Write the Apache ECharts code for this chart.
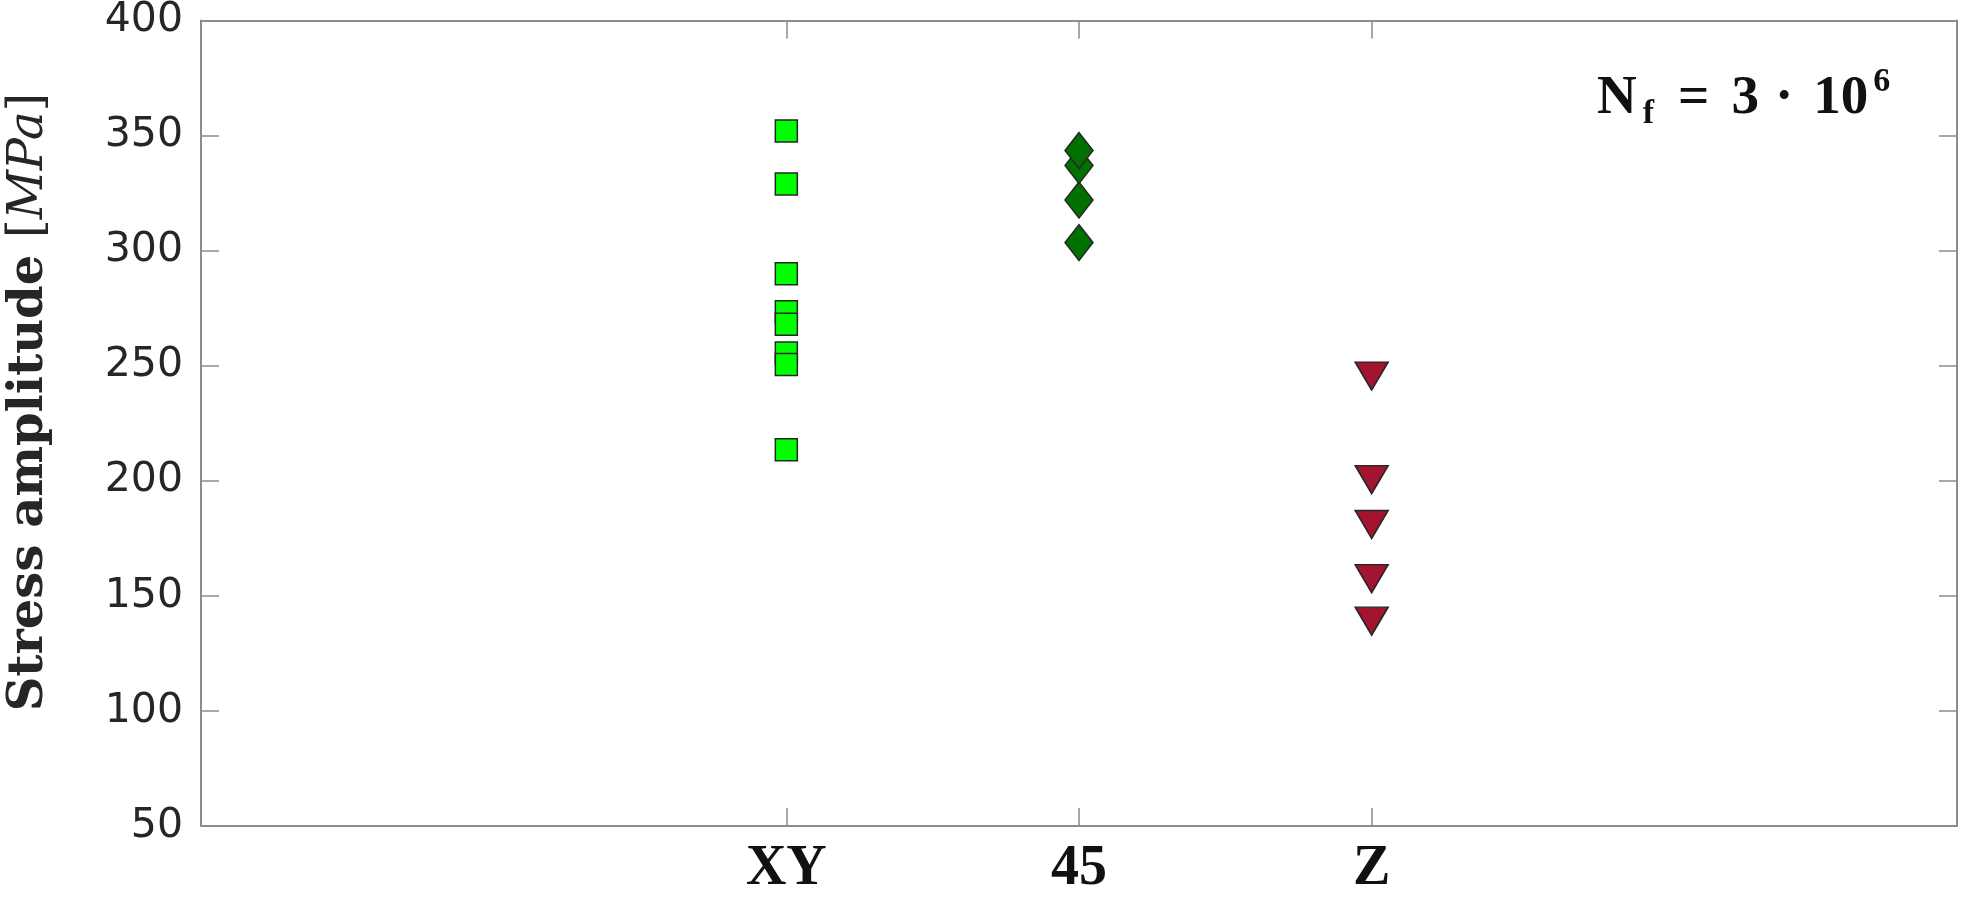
<!DOCTYPE html>
<html>
<head>
<meta charset="utf-8">
<script src="https://cdn.jsdelivr.net/npm/echarts@6/dist/echarts.min.js"></script>
<style>
html,body{margin:0;padding:0;background:#fff;}
#chart{width:1962px;height:898px;}
</style>
</head>
<body>
<div id="chart"></div>
<script>
// ---- data ----
const categories = ['XY', '45', 'Z'];
const xyValues = [352, 329, 290, 273.5, 268, 255.5, 250.5, 213.5];
const deg45Values = [303.5, 322, 337, 343.5];
const zValues = [245.5, 200.5, 181, 157.5, 139];
const yMin = 50, yMax = 400, yStep = 50;
const xPad = 2; // category i sits at x = i + xPad on an axis running 0..6

const axisColor = '#8c8c8c';
const edgeColor = '#262626';

function toPoints(cat, vals) {
  const x = categories.indexOf(cat) + xPad;
  return vals.map(v => [x, v]);
}
const catTicks = categories.map((c, i) => i + xPad);

const chart = echarts.init(document.getElementById('chart'), null, {renderer: 'canvas'});

const baseX = {
  type: 'value', min: 0, max: categories.length + 2 * xPad - 1, interval: 1,
  splitLine: {show: false},
  axisLine: {show: true, onZero: false, lineStyle: {color: axisColor, width: 2}},
  axisTick: {show: true, inside: true, length: 18, customValues: catTicks,
             lineStyle: {color: axisColor, width: 1.5}}
};
const baseY = {
  type: 'value', min: yMin, max: yMax, interval: yStep,
  splitLine: {show: false},
  axisLine: {show: true, onZero: false, lineStyle: {color: axisColor, width: 2}},
  axisTick: {show: true, inside: true, length: 18, lineStyle: {color: axisColor, width: 1.5}}
};

const mainFont = {fontFamily: 'Liberation Serif', fontWeight: 'bold', fontSize: 55, fill: '#111', verticalAlign: 'bottom'};
const smallFont = {fontFamily: 'Liberation Serif', fontWeight: 'bold', fontSize: 34, fill: '#111', verticalAlign: 'bottom'};

chart.setOption({
  animation: false,
  backgroundColor: '#ffffff',
  grid: {left: 201, right: 5, top: 20, bottom: 63, containLabel: false},
  xAxis: [
    Object.assign({}, baseX, {
      position: 'bottom',
      axisLabel: {show: true, customValues: catTicks, margin: 16,
        formatter: v => categories[Math.round(v) - xPad] || '',
        fontFamily: 'Liberation Serif', fontWeight: 'bold', fontSize: 56, color: '#111'}
    }),
    Object.assign({}, baseX, {position: 'top', axisLabel: {show: false}})
  ],
  yAxis: [
    Object.assign({}, baseY, {
      position: 'left',
      axisLabel: {show: true, margin: 18, fontFamily: 'DejaVu Sans', fontSize: 41, color: '#262626'}
    }),
    Object.assign({}, baseY, {position: 'right', axisLabel: {show: false}})
  ],
  graphic: [
    {
      type: 'text', x: 30, y: 402, rotation: Math.PI / 2,
      style: {
        text: '{b|Stress amplitude }{r|[}{i|MPa}{r|]}',
        align: 'center', verticalAlign: 'middle',
        rich: {
          b: {fontFamily: 'DejaVu Serif', fontWeight: 'bold', fontSize: 48, fill: '#262626'},
          r: {fontFamily: 'DejaVu Serif', fontSize: 48, fill: '#262626'},
          i: {fontFamily: 'DejaVu Serif', fontStyle: 'italic', fontSize: 48, fill: '#262626'}
        }
      }
    },
    {
      type: 'text', x: 1597, y: 131,
      style: {
        text: '{m|N}{s|f}{e|=}{m|3}{d|·}{m|10}{p|6}',
        align: 'left', verticalAlign: 'bottom',
        rich: {
          m: Object.assign({}, mainFont, {padding: [0, 0, 5, 0]}),
          e: Object.assign({}, mainFont, {padding: [0, 22, 5, 24]}),
          d: Object.assign({}, mainFont, {padding: [0, 20, 5, 16]}),
          s: Object.assign({}, smallFont, {padding: [0, 0, 0, 6]}),
          p: Object.assign({}, smallFont, {padding: [0, 0, 32, 5]})
        }
      }
    }
  ],
  series: [
    {
      name: 'XY', type: 'scatter', xAxisIndex: 0, yAxisIndex: 0,
      symbol: 'rect', symbolSize: 22,
      itemStyle: {color: '#00ff00', borderColor: edgeColor, borderWidth: 1.5, opacity: 1},
      data: toPoints('XY', xyValues)
    },
    {
      name: '45', type: 'scatter', xAxisIndex: 0, yAxisIndex: 0,
      symbol: 'diamond', symbolSize: [28, 36],
      itemStyle: {color: '#007000', borderColor: edgeColor, borderWidth: 1.5, opacity: 1},
      data: toPoints('45', deg45Values)
    },
    {
      name: 'Z', type: 'scatter', xAxisIndex: 0, yAxisIndex: 0,
      symbol: 'triangle', symbolRotate: 180, symbolSize: [33, 28],
      itemStyle: {color: '#a2142f', borderColor: edgeColor, borderWidth: 1.5, opacity: 1},
      data: toPoints('Z', zValues)
    }
  ]
});
</script>
</body>
</html>
